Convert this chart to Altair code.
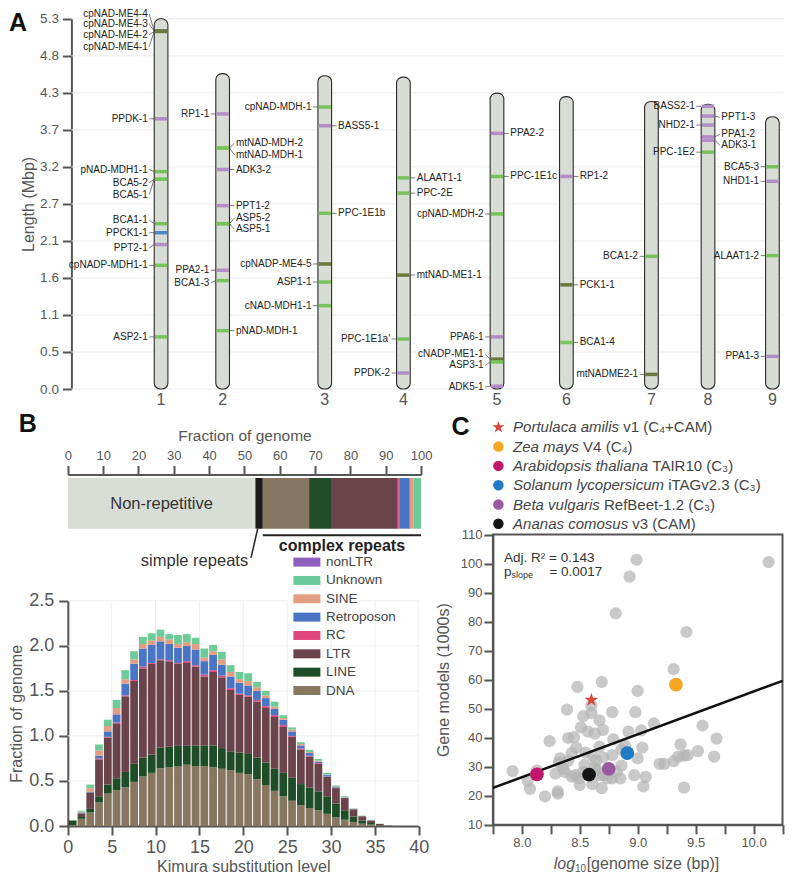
import altair as alt
import pandas as pd

W, H = 775, 866


def X(rx):
    return round((rx - 3) * 0.975, 1)


def Y(ry):
    return round((ry - 1) * 0.975, 1)


FONT = "Liberation Sans"
AXC = "#555555"

# ---------------- Panel A: chromosomes ----------------
chrom_names = ["1", "2", "3", "4", "5", "6", "7", "8", "9"]
chrom_pos = [1.26, 2.125, 3.56, 4.665, 5.98, 6.955, 8.15, 8.945, 9.85]
chrom_len = [5.33, 4.54, 4.51, 4.49, 4.26, 4.21, 4.14, 4.10, 3.92]
length_ticks = [round(5.33 * i / 10, 3) for i in range(11)]

gene_names = ["cpNAD-ME4-4", "cpNAD-ME4-3", "cpNAD-ME4-2", "cpNAD-ME4-1", "PPDK-1", "pNAD-MDH1-1",
              "BCA5-2", "BCA5-1", "BCA1-1", "PPCK1-1", "PPT2-1", "cpNADP-MDH1-1", "ASP2-1",
              "RP1-1", "mtNAD-MDH-2", "mtNAD-MDH-1", "ADK3-2", "PPT1-2", "ASP5-2", "ASP5-1",
              "PPA2-1", "BCA1-3", "pNAD-MDH-1",
              "cpNAD-MDH-1", "BASS5-1", "PPC-1E1b", "cpNADP-ME4-5", "ASP1-1", "cNAD-MDH1-1",
              "ALAAT1-1", "PPC-2E", "mtNAD-ME1-1", "PPC-1E1a'", "PPDK-2",
              "PPA2-2", "PPC-1E1c", "cpNAD-MDH-2", "PPA6-1", "cNADP-ME1-1", "ASP3-1", "ADK5-1",
              "RP1-2", "PCK1-1", "BCA1-4",
              "BCA1-2", "mtNADME2-1",
              "BASS2-1", "PPT1-3", "NHD2-1", "PPA1-2", "ADK3-1", "PPC-1E2",
              "BCA5-3", "NHD1-1", "ALAAT1-2", "PPA1-3"]
gene_chrom = (["1"] * 13 + ["2"] * 10 + ["3"] * 6 + ["4"] * 5 + ["5"] * 7 + ["6"] * 3
              + ["7"] * 2 + ["8"] * 6 + ["9"] * 4)
gene_mbp = [5.15, 5.15, 5.15, 5.15, 3.89, 3.13, 3.02, 3.02, 2.38, 2.25, 2.08, 1.78, 0.75,
            3.96, 3.47, 3.47, 3.16, 2.64, 2.38, 2.38, 1.71, 1.56, 0.84,
            4.06, 3.79, 2.53, 1.80, 1.54, 1.20,
            3.04, 2.82, 1.64, 0.72, 0.23,
            3.68, 3.06, 2.52, 0.75, 0.43, 0.39, 0.04,
            3.06, 1.50, 0.67,
            1.91, 0.21,
            4.07, 3.93, 3.80, 3.63, 3.58, 3.41,
            3.20, 2.99, 1.92, 0.47]
gene_label_mbp = [5.40, 5.25, 5.10, 4.93, 3.89, 3.16, 2.97, 2.80, 2.43, 2.25, 2.03, 1.78, 0.75,
                  3.96, 3.54, 3.37, 3.16, 2.64, 2.46, 2.30, 1.71, 1.53, 0.84,
                  4.06, 3.79, 2.53, 1.80, 1.54, 1.20,
                  3.04, 2.82, 1.64, 0.72, 0.23,
                  3.68, 3.06, 2.52, 0.75, 0.50, 0.34, 0.03,
                  3.06, 1.50, 0.67,
                  1.91, 0.21,
                  4.07, 3.91, 3.80, 3.67, 3.51, 3.41,
                  3.20, 2.99, 1.92, 0.47]
gene_side = ["L"] * 13 + \
            ["L", "R", "R", "R", "R", "R", "R", "L", "L", "R"] + \
            ["L", "R", "R", "L", "L", "L"] + \
            ["R", "R", "R", "L", "L"] + \
            ["R", "R", "L", "L", "L", "L", "L"] + \
            ["R", "R", "R"] + \
            ["L", "L"] + \
            ["L", "R", "L", "R", "R", "L"] + \
            ["L", "L", "L", "L"]
gene_kind = ["o", "o", "o", "o", "p", "g", "g", "g", "g", "b", "p", "g", "g",
             "p", "g", "g", "p", "p", "g", "g", "p", "g", "g",
             "g", "p", "g", "o", "g", "g",
             "g", "g", "o", "g", "p",
             "p", "g", "g", "p", "o", "g", "p",
             "p", "o", "g",
             "g", "o",
             "p", "p", "p", "p", "p", "g",
             "g", "p", "g", "p"]
kind_color = {"g": "#78c35c", "p": "#b48cc8", "o": "#6a783c", "b": "#5089c6"}

HW = 0.096
GAP = 0.07

chrom_df = pd.DataFrame({"chrom": chrom_names, "pos": chrom_pos, "len": chrom_len})
chrom_df["x1"] = chrom_df["pos"] - HW
chrom_df["x2"] = chrom_df["pos"] + HW
chrom_df["y0"] = 0.0

pos_of = dict(zip(chrom_names, chrom_pos))
genes = pd.DataFrame({"name": gene_names, "chrom": gene_chrom, "mbp": gene_mbp,
                      "lmbp": gene_label_mbp, "side": gene_side, "kind": gene_kind})
genes["pos"] = genes["chrom"].map(pos_of)
sgn = genes["side"].map({"L": -1.0, "R": 1.0})
genes["bx1"] = genes["pos"] - HW + 0.01
genes["bx2"] = genes["pos"] + HW - 0.01
genes["ex"] = genes["pos"] + sgn * HW
genes["lx"] = genes["pos"] + sgn * (HW + GAP)
genes["color"] = genes["kind"].map(kind_color)


def ax_s():
    return alt.Scale(domain=[0, 10], range=[X(67), X(797)], nice=False, zero=False)


def ay_s():
    return alt.Scale(domain=[0, 5.33], range=[Y(390.7), Y(11)], nice=False, zero=False)


gridA = alt.Chart(pd.DataFrame({"v": length_ticks, "a": 0.0, "b": 10.0})).mark_rule(
    color="#ececec", strokeWidth=1).encode(
    x=alt.X("a:Q", scale=ax_s(), axis=None), x2="b:Q",
    y=alt.Y("v:Q", scale=ay_s(), axis=alt.Axis(
        orient="left", offset=-X(67), values=length_ticks, format=".1f", title="Length (Mbp)",
        labelFontSize=13.5, titleFontSize=16, tickSize=9, labelPadding=4, titlePadding=3)))

chromA = alt.Chart(chrom_df).mark_bar(fill="#d7dcd4", stroke="#2a2a2a", strokeWidth=1.1,
                                      cornerRadius=6).encode(
    x=alt.X("x1:Q", scale=ax_s(), axis=None), x2="x2:Q",
    y=alt.Y("y0:Q", scale=ay_s(), axis=None), y2="len:Q")

bandsA = alt.Chart(genes).mark_rule(strokeWidth=3.5).encode(
    x=alt.X("bx1:Q", scale=ax_s(), axis=None), x2="bx2:Q",
    y=alt.Y("mbp:Q", scale=ay_s(), axis=None),
    color=alt.Color("color:N", scale=None))

connA = alt.Chart(genes).mark_rule(strokeWidth=0.7, color="#444444").encode(
    x=alt.X("ex:Q", scale=ax_s(), axis=None), x2="lx:Q",
    y=alt.Y("mbp:Q", scale=ay_s(), axis=None), y2="lmbp:Q")

labL = alt.Chart(genes[genes["side"] == "L"]).mark_text(
    align="right", dx=-1.5, fontSize=10, color="#222222").encode(
    x=alt.X("lx:Q", scale=ax_s(), axis=None),
    y=alt.Y("lmbp:Q", scale=ay_s(), axis=None), text="name:N")

labR = alt.Chart(genes[genes["side"] == "R"]).mark_text(
    align="left", dx=1.5, fontSize=10, color="#222222").encode(
    x=alt.X("lx:Q", scale=ax_s(), axis=None),
    y=alt.Y("lmbp:Q", scale=ay_s(), axis=None), text="name:N")

numA = alt.Chart(chrom_df).mark_text(fontSize=16, color="#555555").encode(
    x=alt.X("pos:Q", scale=ax_s(), axis=None), y=alt.value(Y(402)), text="chrom:N")

# ---------------- Panel B: repeats ----------------
seg_names = ["Non-repetitive", "Simple repeats", "DNA", "LINE", "LTR", "nonLTR", "RC",
             "Retroposon", "SINE", "Unknown"]
seg_pct = [53.1, 2.1, 13.1, 6.2, 18.9, 0.1, 0.3, 3.0, 1.1, 2.1]
cat_color = {"Non-repetitive": "#d8ddd6", "Simple repeats": "#1c1c1c", "DNA": "#877660",
             "LINE": "#1e4d27", "LTR": "#6b434a", "nonLTR": "#8e5fbf", "RC": "#e0457b",
             "Retroposon": "#4a74c4", "SINE": "#e29d82", "Unknown": "#6ccb98"}

seg_df = pd.DataFrame({"name": seg_names, "pct": seg_pct})
seg_df["end"] = seg_df["pct"].cumsum()
seg_df["start"] = seg_df["end"] - seg_df["pct"]
seg_df["mid"] = seg_df["start"] + seg_df["pct"] / 2
seg_df["color"] = seg_df["name"].map(cat_color)


def bx_s():
    return alt.Scale(domain=[0, 100], range=[X(63.3), X(425.7)], nice=False, zero=False)


barB = alt.Chart(seg_df).mark_bar().encode(
    x=alt.X("start:Q", scale=bx_s(), axis=alt.Axis(
        orient="top", offset=-Y(478.3), values=list(range(0, 101, 10)), format="d",
        title="Fraction of genome", labelFontSize=13, titleFontSize=15.5, tickSize=9,
        labelPadding=3, titlePadding=6)),
    x2="end:Q", y=alt.value(Y(482)), y2=alt.value(Y(534)),
    color=alt.Color("color:N", scale=None))

nonrep = alt.Chart(seg_df[seg_df["name"] == "Non-repetitive"]).mark_text(
    fontSize=16.5, color="#333333").encode(
    x=alt.X("mid:Q", scale=bx_s(), axis=None), y=alt.value(Y(509)), text="name:N")

cstart = float(seg_df.loc[seg_df["name"] == "DNA", "start"].iloc[0])
smid = float(seg_df.loc[seg_df["name"] == "Simple repeats", "mid"].iloc[0])
bracket_df = pd.DataFrame({"a": [cstart], "b": [100.0], "mid": [(cstart + 100) / 2],
                           "t": ["complex repeats"]})
bracket = alt.Chart(bracket_df).mark_rule(color="#222222", strokeWidth=2).encode(
    x=alt.X("a:Q", scale=bx_s(), axis=None), x2="b:Q", y=alt.value(Y(540.7)))
ctext = alt.Chart(bracket_df).mark_text(fontSize=16, fontWeight="bold", color="#222222").encode(
    x=alt.X("mid:Q", scale=bx_s(), axis=None), y=alt.value(Y(552)), text="t:N")

simple_df = pd.DataFrame({"a": [smid - 0.4], "b": [smid - 2.3], "tx": [smid - 3.1],
                          "t": ["simple repeats"]})
sleader = alt.Chart(simple_df).mark_rule(color="#222222", strokeWidth=1.5).encode(
    x=alt.X("a:Q", scale=bx_s(), axis=None), x2="b:Q",
    y=alt.value(Y(534)), y2=alt.value(Y(564)))
stext = alt.Chart(simple_df).mark_text(align="right", fontSize=16.5, color="#333333").encode(
    x=alt.X("tx:Q", scale=bx_s(), axis=None), y=alt.value(Y(567)), text="t:N")

# histogram
rep_stack = ["DNA", "LINE", "LTR", "RC", "Retroposon", "SINE", "Unknown"]
kimura_bins = list(range(37))
dna = [0.01, 0.08, 0.15, 0.26, 0.36, 0.40, 0.43, 0.49, 0.55, 0.59, 0.64, 0.65, 0.66, 0.68, 0.665,
       0.665, 0.65, 0.635, 0.62, 0.59, 0.575, 0.52, 0.455, 0.39, 0.33, 0.28, 0.23, 0.20, 0.175,
       0.135, 0.095, 0.07, 0.045, 0.025, 0.015, 0.006, 0.0]
line = [0.05, 0.02, 0.04, 0.07, 0.10, 0.13, 0.17, 0.20, 0.21, 0.20, 0.23, 0.23, 0.23, 0.21, 0.23,
        0.23, 0.245, 0.23, 0.21, 0.225, 0.225, 0.24, 0.25, 0.245, 0.26, 0.255, 0.235, 0.225, 0.21,
        0.195, 0.155, 0.105, 0.06, 0.035, 0.018, 0.005, 0.0]
ltr = [0.0, 0.04, 0.18, 0.41, 0.52, 0.61, 0.84, 0.92, 0.99, 1.01, 0.97, 0.95, 0.91, 0.92, 0.875,
       0.765, 0.815, 0.785, 0.68, 0.64, 0.635, 0.62, 0.605, 0.575, 0.51, 0.455, 0.38, 0.345, 0.305,
       0.215, 0.17, 0.135, 0.08, 0.048, 0.028, 0.012, 0.004]
rc = [0, 0, 0, 0.01, 0.01, 0.01, 0.01, 0.01, 0.02, 0.01, 0.01, 0.01, 0.01, 0.02, 0.015, 0.02, 0.02,
      0.02, 0.02, 0.015, 0.015, 0.02, 0.02, 0.02, 0.02, 0.01, 0.015, 0.01, 0.01, 0.005, 0.005, 0,
      0, 0, 0, 0, 0]
retro = [0, 0.01, 0.01, 0.03, 0.06, 0.09, 0.13, 0.18, 0.20, 0.20, 0.20, 0.18, 0.17, 0.17, 0.175,
         0.15, 0.17, 0.12, 0.13, 0.12, 0.11, 0.10, 0.09, 0.07, 0.06, 0.05, 0.035, 0.03, 0.015,
         0.015, 0.01, 0.005, 0.003, 0.002, 0.002, 0, 0]
sine = [0, 0.01, 0.04, 0.06, 0.06, 0.07, 0.05, 0.05, 0.05, 0.05, 0.05, 0.05, 0.04, 0.04, 0.06, 0.04,
        0.04, 0.06, 0.05, 0.04, 0.05, 0.04, 0.03, 0.025, 0.02, 0.02, 0.015, 0.01, 0.01, 0.005,
        0.005, 0.005, 0.002, 0.002, 0.002, 0, 0]
unk = [0, 0.01, 0.04, 0.065, 0.07, 0.09, 0.10, 0.09, 0.08, 0.08, 0.08, 0.06, 0.10, 0.09, 0.07, 0.10,
       0.07, 0.085, 0.075, 0.08, 0.085, 0.06, 0.05, 0.055, 0.03, 0.025, 0.02, 0.025, 0.02, 0.02,
       0.01, 0.01, 0.005, 0.003, 0.003, 0.002, 0.001]

rows = []
for i, k in enumerate(kimura_bins):
    base = 0.0
    for cat, vals in zip(rep_stack, [dna, line, ltr, rc, retro, sine, unk]):
        v = vals[i]
        if v > 0:
            rows.append({"k": k, "k1": k + 1, "cat": cat, "y0": base, "y1": base + v})
        base += v
hist_df = pd.DataFrame(rows)


def hx_s():
    return alt.Scale(domain=[0, 40], range=[X(63.3), X(423.3)], nice=False, zero=False)


def hy_s():
    return alt.Scale(domain=[0, 2.5], range=[Y(839), Y(608)], nice=False, zero=False)


hist_yticks = [0.0, 0.5, 1.0, 1.5, 2.0, 2.5]
gridHh = alt.Chart(pd.DataFrame({"v": hist_yticks[1:], "a": 0.0, "b": 40.0})).mark_rule(
    color="#efefef", strokeWidth=1).encode(
    x=alt.X("a:Q", scale=hx_s(), axis=None), x2="b:Q",
    y=alt.Y("v:Q", scale=hy_s(), axis=None))
gridHv = alt.Chart(pd.DataFrame({"v": list(range(5, 41, 5)), "a": 0.0, "b": 2.5})).mark_rule(
    color="#efefef", strokeWidth=1).encode(
    x=alt.X("v:Q", scale=hx_s(), axis=None),
    y=alt.Y("a:Q", scale=hy_s(), axis=None), y2="b:Q")

histB = alt.Chart(hist_df).mark_bar(binSpacing=1).encode(
    x=alt.X("k:Q", bin="binned", scale=hx_s(), axis=alt.Axis(
        orient="bottom", offset=-(H - Y(839)), values=list(range(0, 41, 5)), format="d",
        title="Kimura substitution level", labelFontSize=18, titleFontSize=16, tickSize=9,
        labelPadding=3, titlePadding=2)),
    x2="k1:Q",
    y=alt.Y("y0:Q", scale=hy_s(), axis=alt.Axis(
        orient="left", offset=-X(63.3), values=hist_yticks, format=".1f",
        title="Fraction of genome", labelFontSize=18, titleFontSize=16, tickSize=9,
        labelPadding=5, titlePadding=4)),
    y2="y1:Q",
    color=alt.Color("cat:N", scale=alt.Scale(domain=rep_stack,
                                             range=[cat_color[c] for c in rep_stack]),
                    legend=None))

leg_order = ["nonLTR", "Unknown", "SINE", "Retroposon", "RC", "LTR", "LINE", "DNA"]
legB_df = pd.DataFrame({"cat": leg_order, "row": list(range(len(leg_order)))})
legB_df["color"] = legB_df["cat"].map(cat_color)


def lby_s():
    return alt.Scale(domain=[0, 7], range=[Y(568.3), Y(700)], nice=False, zero=False)


legB_sym = alt.Chart(legB_df).mark_point(shape="M-1,-0.333H1V0.333H-1Z", size=729, filled=True,
                                         opacity=1).encode(
    x=alt.value(X(308.5)), y=alt.Y("row:Q", scale=lby_s(), axis=None),
    color=alt.Color("color:N", scale=None))
legB_txt = alt.Chart(legB_df).mark_text(align="left", fontSize=13.5, color="#444444").encode(
    x=alt.value(X(328)), y=alt.Y("row:Q", scale=lby_s(), axis=None), text="cat:N")

# ---------------- Panel C: gene models vs genome size ----------------
gray_x = [7.92, 8.05, 8.07, 8.13, 8.20, 8.24, 8.31, 8.31, 8.29, 8.33,
          8.32, 8.36, 8.37, 8.39, 8.40, 8.43, 8.45, 8.48, 8.47, 8.46,
          8.49, 8.51, 8.50, 8.53, 8.55, 8.57, 8.60, 8.60, 8.63, 8.61,
          8.61, 8.63, 8.65, 8.67, 8.67, 8.69, 8.69, 8.70, 8.70, 8.70,
          8.74, 8.78, 8.78, 8.78, 8.79, 8.85, 8.86, 8.86, 8.89, 8.92,
          8.98, 8.97, 9.00, 9.00, 9.03, 9.04, 9.05, 9.07, 9.14, 9.19,
          9.23, 9.31, 9.31, 9.37, 9.35, 9.40, 9.43, 9.40, 9.52, 9.56,
          9.66, 9.68, 8.54, 8.43, 8.53, 8.57, 8.64, 8.67, 8.40, 8.82,
          8.99, 8.93, 8.81, 9.42, 10.13]
gray_y = [28.5, 25.1, 22.4, 28.7, 19.8, 38.8, 21.5, 20.7, 27.6, 32.9,
          31.5, 29.3, 28.2, 49.7, 39.9, 34.7, 40.2, 57.5, 36.6, 27.1,
          26.0, 43.6, 23.7, 47.4, 34.9, 42.1, 48.5, 51.1, 41.4, 24.0,
          33.8, 29.9, 28.8, 46.0, 36.9, 22.6, 59.2, 42.7, 33.2, 27.1,
          26.0, 48.8, 34.0, 26.0, 39.4, 26.0, 36.0, 30.4, 37.3, 42.1,
          48.8, 27.1, 32.9, 56.1, 42.5, 36.6, 23.2, 26.5, 44.9, 31.0,
          31.0, 31.9, 63.6, 37.7, 33.5, 33.8, 34.0, 22.8, 35.4, 44.2,
          33.5, 39.7, 30.6, 26.6, 28.2, 27.1, 32.1, 27.1, 32.1, 28.2,
          101.3, 95.5, 82.8, 76.4, 100.5]

sp_names = ["Portulaca amilis", "Zea mays", "Arabidopsis thaliana", "Solanum lycopersicum",
            "Beta vulgaris", "Ananas comosus"]
sp_suffix = ["v1 (C₄+CAM)", "V4 (C₄)", "TAIR10 (C₃)", "iTAGv2.3 (C₃)", "RefBeet-1.2 (C₃)",
             "v3 (CAM)"]
sp_x = [8.60, 9.33, 8.13, 8.91, 8.75, 8.58]
sp_y = [53.0, 58.3, 27.4, 34.7, 29.3, 27.3]
sp_color = {"Portulaca amilis": "#d9463b", "Zea mays": "#f5a623",
            "Arabidopsis thaliana": "#c2186b", "Solanum lycopersicum": "#1f7bc4",
            "Beta vulgaris": "#9b5aa0", "Ananas comosus": "#151515"}
STAR = ("M0,-1L0.2245,-0.309L0.951,-0.309L0.363,0.118L0.588,0.809L0,0.382L-0.588,0.809"
        "L-0.363,0.118L-0.951,-0.309L-0.2245,-0.309Z")
sp_shape = {"Portulaca amilis": STAR}

fit_slope = 14.76
fit_intercept = -91.69
c_domain = [7.75, 10.25]


def cx_s():
    return alt.Scale(domain=c_domain, range=[X(499.3), X(796.3)], nice=False, zero=False)


def cy_s():
    return alt.Scale(domain=[10, 110], range=[Y(837.7), Y(540)], nice=False, zero=False)


one = pd.DataFrame({"a": [0]})
frameC = alt.Chart(one).mark_rect(fill="transparent", stroke=AXC, strokeWidth=2).encode(
    x=alt.value(X(499.3)), x2=alt.value(X(796.3)), y=alt.value(Y(540)), y2=alt.value(Y(837.7)))

gray_df = pd.DataFrame({"x": gray_x, "y": gray_y})
c_xticks = [7.75 + 0.25 * i for i in range(11)]
grayC = alt.Chart(gray_df).mark_circle(size=150, color="#b4b4b4", opacity=0.72).encode(
    x=alt.X("x:Q", scale=cx_s(), axis=alt.Axis(
        orient="bottom", offset=-(H - Y(837.7)), values=c_xticks,
        labelExpr="(datum.value * 2) % 1 == 0 ? format(datum.value, '.1f') : ''",
        title=None, labelFontSize=13, tickSize=9, labelPadding=3)),
    y=alt.Y("y:Q", scale=cy_s(), axis=alt.Axis(
        orient="left", offset=-X(499.3), values=list(range(10, 111, 10)), format="d",
        title="Gene models (1000s)", labelFontSize=13, titleFontSize=16, tickSize=9,
        labelPadding=2, titlePadding=9)))

fit_df = pd.DataFrame({"x": c_domain})
fit_df["y"] = fit_intercept + fit_slope * fit_df["x"]
fitC = alt.Chart(fit_df).mark_line(color="#111111", strokeWidth=2.5).encode(
    x=alt.X("x:Q", scale=cx_s(), axis=None), y=alt.Y("y:Q", scale=cy_s(), axis=None))

sp_df = pd.DataFrame({"name": sp_names, "suffix": sp_suffix, "x": sp_x, "y": sp_y,
                      "row": list(range(len(sp_names)))})
sp_df["color"] = sp_df["name"].map(sp_color)
sp_df["shape"] = sp_df["name"].map(lambda n: sp_shape.get(n, "circle"))
sp_df["sz"] = sp_df["name"].map(lambda n: 210 if n in sp_shape else 190)
sp_df["lsz"] = sp_df["name"].map(lambda n: 160 if n in sp_shape else 110)

spC = alt.Chart(sp_df).mark_point(filled=True, opacity=1).encode(
    x=alt.X("x:Q", scale=cx_s(), axis=None), y=alt.Y("y:Q", scale=cy_s(), axis=None),
    color=alt.Color("color:N", scale=None), shape=alt.Shape("shape:N", scale=None),
    size=alt.Size("sz:Q", scale=None))

# text widths (Arial / Liberation Sans metrics)
AW = {" ": 278, "A": 667, "B": 667, "P": 667, "S": 667, "Z": 611, "a": 556, "b": 556, "c": 500,
      "d": 556, "e": 556, "g": 556, "h": 556, "i": 222, "l": 222, "m": 833, "n": 556, "o": 556,
      "p": 556, "r": 333, "s": 500, "t": 278, "u": 556, "v": 500, "y": 500, "z": 500,
      "[": 278, "]": 278, "(": 333, ")": 333, "1": 556, "0": 556}


def tw(s, fs):
    return sum(AW.get(c, 556) for c in s) * fs / 1000.0


sp_df["sx"] = [X(520) + tw(n + " ", 15) for n in sp_names]


def lcy_s():
    return alt.Scale(domain=[0, 5], range=[Y(430), Y(529)], nice=False, zero=False)


legC_sym = alt.Chart(sp_df).mark_point(filled=True, opacity=1).encode(
    x=alt.value(X(505)), y=alt.Y("row:Q", scale=lcy_s(), axis=None),
    color=alt.Color("color:N", scale=None), shape=alt.Shape("shape:N", scale=None),
    size=alt.Size("lsz:Q", scale=None))
legC_name = alt.Chart(sp_df).mark_text(align="left", fontSize=15, fontStyle="italic",
                                       color="#444444").encode(
    x=alt.value(X(520)), y=alt.Y("row:Q", scale=lcy_s(), axis=None), text="name:N")
legC_suf = alt.Chart(sp_df).mark_text(align="left", fontSize=15, color="#444444").encode(
    x=alt.X("sx:Q", scale=None), y=alt.Y("row:Q", scale=lcy_s(), axis=None), text="suffix:N")

# x-axis title of panel C: italic log, subscript 10
xt0 = X(561.7)
xt_df = pd.DataFrame({
    "t": ["log", "10", "[genome size (bp)]"],
    "px": [xt0, xt0 + tw("log", 16), xt0 + tw("log", 16) + tw("10", 10) + 0.5],
    "py": [Y(878), Y(878) + 4.5, Y(878)],
    "fs": [16, 10, 16],
    "st": ["italic", "normal", "normal"]})
xtitle_it = alt.Chart(xt_df[xt_df["st"] == "italic"]).mark_text(
    align="left", fontStyle="italic", color="#555555").encode(
    x=alt.X("px:Q", scale=None), y=alt.Y("py:Q", scale=None), text="t:N",
    size=alt.Size("fs:Q", scale=None))
xtitle_rm = alt.Chart(xt_df[xt_df["st"] == "normal"]).mark_text(
    align="left", color="#555555").encode(
    x=alt.X("px:Q", scale=None), y=alt.Y("py:Q", scale=None), text="t:N",
    size=alt.Size("fs:Q", scale=None))

# annotations
ann_df = pd.DataFrame({
    "t": ["Adj. R² = 0.143", "p", "slope", "= 0.0017"],
    "px": [X(510.7), X(510.7), X(518.5), X(557.3)],
    "py": [Y(564), Y(578.5), Y(581.5), Y(578.5)],
    "fs": [13.5, 13.5, 9, 13.5]})
annC = alt.Chart(ann_df).mark_text(align="left", color="#333333").encode(
    x=alt.X("px:Q", scale=None), y=alt.Y("py:Q", scale=None), text="t:N",
    size=alt.Size("fs:Q", scale=None))

letters_df = pd.DataFrame({"t": ["A", "B", "C"], "px": [X(3), X(13), X(457)],
                           "py": [Y(15), Y(427), Y(430)]})
letters = alt.Chart(letters_df).mark_text(align="left", fontSize=25, fontWeight="bold",
                                          color="#111111").encode(
    x=alt.X("px:Q", scale=None), y=alt.Y("py:Q", scale=None), text="t:N")

chart = alt.layer(
    gridA, chromA, bandsA, connA, labL, labR, numA,
    barB, nonrep, bracket, ctext, sleader, stext,
    gridHh, gridHv, histB, legB_sym, legB_txt,
    frameC, grayC, fitC, spC, legC_sym, legC_name, legC_suf, xtitle_it, xtitle_rm, annC,
    letters
).resolve_scale(
    x="independent", y="independent", color="independent", shape="independent",
    size="independent"
).resolve_axis(
    x="independent", y="independent"
).properties(
    width=W, height=H, padding=0, background="white"
).configure_view(
    stroke=None
).configure_axis(
    domainColor=AXC, domainWidth=2, tickColor=AXC, tickWidth=2, labelColor="#555555",
    titleColor="#555555", labelFont=FONT, titleFont=FONT, titleFontWeight="normal",
    grid=False, labelFlush=False, labelOverlap=False
).configure_text(
    font=FONT
)

chart.save("out.html", embed_options={"renderer": "svg", "actions": False})
